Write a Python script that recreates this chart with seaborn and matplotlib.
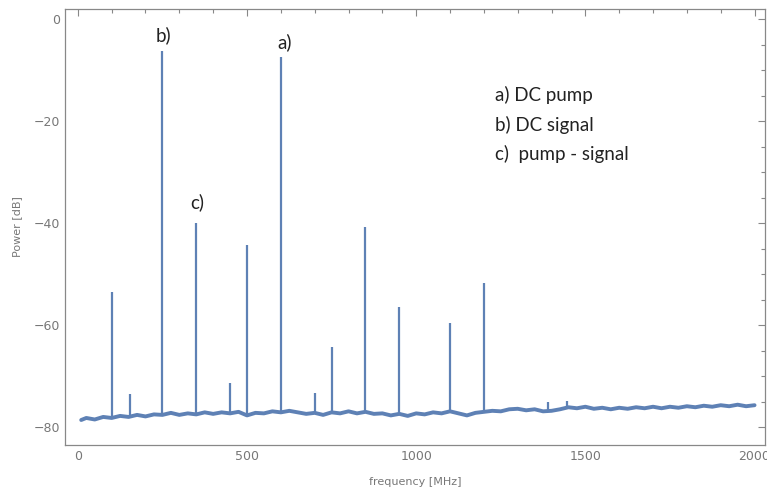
import numpy as np
import pandas as pd
import matplotlib
matplotlib.use("Agg")
import matplotlib.pyplot as plt
import seaborn as sns
from matplotlib.ticker import MultipleLocator

# noise floor (MHz, dB)
floor_freq = [10] + list(range(25, 2001, 25))
floor_power = [-78.6, -78.2, -78.5, -78.0, -78.2, -77.8, -78.0, -77.6, -77.9, -77.5,
               -77.6, -77.2, -77.6, -77.3, -77.5, -77.1, -77.4, -77.1, -77.3, -77.0,
               -77.7, -77.2, -77.3, -76.9, -77.1, -76.8, -77.1, -77.4, -77.2, -77.6,
               -77.1, -77.3, -76.9, -77.3, -77.0, -77.4, -77.3, -77.7, -77.4, -77.8,
               -77.3, -77.5, -77.1, -77.3, -76.9, -77.3, -77.7, -77.2, -77.0, -76.8,
               -76.9, -76.5, -76.4, -76.7, -76.5, -76.9, -76.8, -76.5, -76.1, -76.3,
               -76.0, -76.4, -76.2, -76.5, -76.2, -76.4, -76.1, -76.3, -76.0, -76.3,
               -76.0, -76.2, -75.9, -76.1, -75.8, -76.0, -75.7, -75.9, -75.6, -75.9,
               -75.7]

# spectral lines
peak_freq = [100, 155, 250, 350, 450, 500, 600, 700, 750, 850, 950, 1100, 1200, 1390, 1445]
peak_power = [-53.5, -73.5, -6.3, -40.0, -71.4, -44.3, -7.5, -73.3, -64.3, -40.8, -56.5,
              -59.6, -51.8, -75.0, -74.8]
peak_base = [-78.1, -77.9, -77.5, -77.4, -77.2, -77.6, -77.1, -77.3, -77.2, -77.1, -77.5,
             -77.0, -77.0, -76.8, -76.2]

labels = ["a)", "b)", "c)"]
label_freq = [612, 254, 352]
label_power = [-6.3, -4.8, -37.6]
legend_lines = ["a) DC pump", "b) DC signal", "c)  pump - signal"]

line_col = "#5E81B5"
axis_col = "#888888"

sns.set_theme(style="white")
plt.rcParams["font.family"] = ["DejaVu Sans"]

fig = plt.figure(figsize=(7.67, 4.93), dpi=100)
ax = fig.add_axes([0.0847, 0.0974, 0.9123, 0.8843])

df_floor = pd.DataFrame({"freq": floor_freq, "power": floor_power})
sns.lineplot(data=df_floor, x="freq", y="power", ax=ax, color=line_col, lw=2.8,
             estimator=None, sort=False)
ax.vlines(peak_freq, peak_base, peak_power, color=line_col, lw=1.6)

ax.set_xlim(-38, 2030)
ax.set_ylim(-83.5, 2)
ax.xaxis.set_major_locator(MultipleLocator(500))
ax.xaxis.set_minor_locator(MultipleLocator(100))
ax.yaxis.set_major_locator(MultipleLocator(20))
ax.yaxis.set_minor_locator(MultipleLocator(5))
ax.tick_params(which="both", direction="in", top=True, right=True, colors=axis_col,
               labelcolor="#777777", labelsize=9, width=0.8)
ax.tick_params(which="major", length=5)
ax.tick_params(which="minor", length=3)
for s in ax.spines.values():
    s.set_color(axis_col)
    s.set_linewidth(0.9)

ax.set_xlabel("frequency [MHz]", color="#777777", fontsize=8, labelpad=10)
ax.set_ylabel("Power [dB]", color="#777777", fontsize=8, labelpad=8)

for t, f, p in zip(labels, label_freq, label_power):
    ax.text(f, p, t, fontsize=13.5, family="Lato", color="#222222", ha="center", va="bottom")

for i, t in enumerate(legend_lines):
    ax.text(1232, -14.9 - 5.8 * i, t, fontsize=13.5, family="Lato", color="#222222",
            ha="left", va="center")

fig.savefig("out.png", dpi=100)
